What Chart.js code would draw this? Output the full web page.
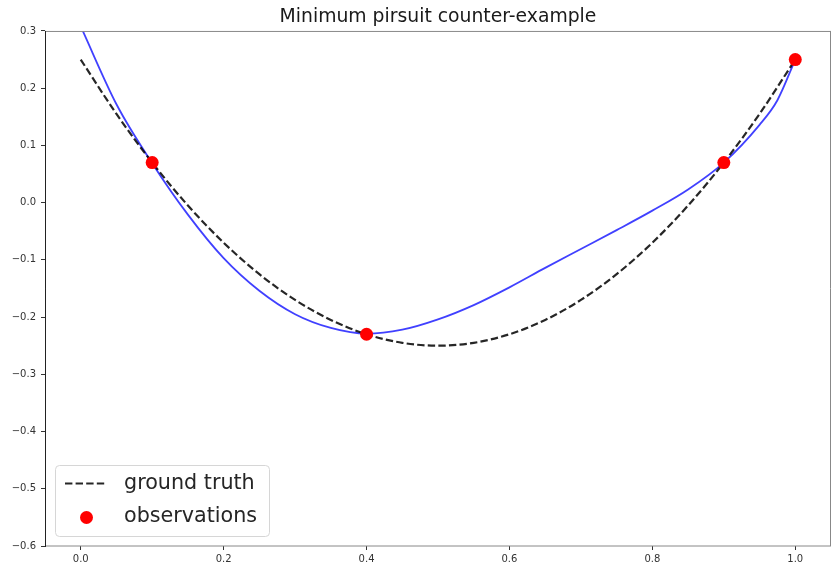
<!DOCTYPE html>
<html>
<head>
<meta charset="utf-8">
<script src="https://cdn.jsdelivr.net/npm/chart.js@4"></script>
<style>
  html, body { margin: 0; padding: 0; background: #fff; }
  #wrap { width: 832px; height: 567px; }
</style>
</head>
<body>
<div id="wrap"><canvas id="chart" width="832" height="567"></canvas></div>
<script>
// values
const truthX = [0, 0.05, 0.1, 0.15, 0.2, 0.25, 0.3, 0.35, 0.4, 0.45, 0.5, 0.55, 0.6, 0.65, 0.7, 0.75, 0.8, 0.85, 0.9, 0.95, 1.0];
const truthY = [0.25, 0.155, 0.07, -0.005, -0.07, -0.125, -0.17, -0.205, -0.23, -0.245, -0.25, -0.245, -0.23, -0.205, -0.17, -0.125, -0.07, -0.005, 0.07, 0.155, 0.25];

const fitX = [0, 0.05, 0.1, 0.15, 0.2, 0.25, 0.3, 0.35, 0.4, 0.45, 0.5, 0.55, 0.6, 0.65, 0.7, 0.75, 0.8, 0.85, 0.9, 0.95, 0.975, 1.0];
const fitY = [0.308, 0.172, 0.069, -0.021, -0.097, -0.154, -0.195, -0.219, -0.229, -0.222, -0.204, -0.179, -0.148, -0.114, -0.081, -0.048, -0.014, 0.023, 0.07, 0.136, 0.179, 0.25];

const obsX = [0.1, 0.4, 0.9, 1.0];
const obsY = [0.07, -0.23, 0.07, 0.25];

const xTicks = [0, 0.2, 0.4, 0.6, 0.8, 1.0];
const yTicks = [-0.6, -0.5, -0.4, -0.3, -0.2, -0.1, 0, 0.1, 0.2, 0.3];

const FONT = "'DejaVu Sans', sans-serif";
const toPts = (xs, ys) => xs.map((x, i) => ({ x: x, y: ys[i] }));
const fmt = v => v.toFixed(1).replace('-', '\u2212');

// box round the plot area, matplotlib style spines
const spines = {
  id: 'spines',
  afterDraw(chart) {
    const { ctx, chartArea: a } = chart;
    ctx.save();
    ctx.lineWidth = 1;
    ctx.strokeStyle = '#888';
    ctx.beginPath();
    ctx.moveTo(a.left, a.top + 0.5); ctx.lineTo(a.right, a.top + 0.5);
    ctx.moveTo(a.left, a.bottom); ctx.lineTo(a.right, a.bottom);
    ctx.moveTo(a.right - 0.5, a.top); ctx.lineTo(a.right - 0.5, a.bottom);
    ctx.stroke();
    ctx.strokeStyle = '#222';
    ctx.beginPath();
    ctx.moveTo(a.left + 0.5, a.top); ctx.lineTo(a.left + 0.5, a.bottom + 1);
    ctx.stroke();
    ctx.restore();
  }
};

// legend inside the lower left corner
const innerLegend = {
  id: 'innerLegend',
  afterDraw(chart) {
    const { ctx, chartArea: a } = chart;
    const x = a.left + 10.5, y = a.bottom - 80.5, w = 214, h = 71;
    ctx.save();
    ctx.fillStyle = 'rgba(255,255,255,0.8)';
    ctx.strokeStyle = '#d6d6d6';
    ctx.lineWidth = 1;
    ctx.beginPath();
    ctx.roundRect(x, y, w, h, 4);
    ctx.fill();
    ctx.stroke();

    const items = chart.data.datasets
      .filter(d => d.legendRank !== undefined)
      .sort((p, q) => p.legendRank - q.legendRank);
    ctx.font = '20.7px ' + FONT;
    ctx.textBaseline = 'middle';
    items.forEach((d, i) => {
      const cy = y + 18 + i * 33;
      if (d.showLine) {
        ctx.strokeStyle = d.borderColor;
        ctx.lineWidth = d.borderWidth;
        ctx.setLineDash(d.borderDash);
        ctx.beginPath();
        ctx.moveTo(x + 9.5, cy); ctx.lineTo(x + 51.5, cy);
        ctx.stroke();
        ctx.setLineDash([]);
      } else {
        ctx.fillStyle = d.backgroundColor;
        ctx.beginPath();
        ctx.arc(x + 31, cy + 1, 6.5, 0, Math.PI * 2);
        ctx.fill();
      }
      ctx.fillStyle = '#262626';
      ctx.fillText(d.label, x + 68.5, cy);
    });
    ctx.restore();
  }
};

new Chart(document.getElementById('chart'), {
  type: 'line',
  data: {
    datasets: [
      {
        label: 'observations',
        legendRank: 1,
        data: toPts(obsX, obsY),
        showLine: false,
        pointRadius: 6.5,
        pointBackgroundColor: '#ff0000',
        backgroundColor: '#ff0000',
        pointBorderWidth: 0,
        order: 0
      },
      {
        label: 'ground truth',
        legendRank: 0,
        data: toPts(truthX, truthY),
        showLine: true,
        borderColor: 'rgba(0,0,0,0.85)',
        borderWidth: 2.2,
        borderDash: [7.4, 3.2],
        pointRadius: 0,
        cubicInterpolationMode: 'monotone',
        order: 1
      },
      {
        label: 'fit',
        data: toPts(fitX, fitY),
        showLine: true,
        borderColor: 'rgba(0,0,255,0.75)',
        borderWidth: 1.8,
        pointRadius: 0,
        cubicInterpolationMode: 'monotone',
        order: 2
      }
    ]
  },
  options: {
    responsive: false,
    animation: false,
    events: [],
    layout: { autoPadding: false, padding: { right: 1, bottom: 0, left: 0, top: 0 } },
    plugins: {
      legend: { display: false },
      tooltip: { enabled: false },
      title: {
        display: true,
        fullSize: false,
        text: 'Minimum pirsuit counter-example',
        color: '#1a1a1a',
        font: { family: FONT, size: 18.8, weight: 'normal', lineHeight: 1.2 },
        padding: { top: 6, bottom: 2.4 }
      }
    },
    scales: {
      x: {
        type: 'linear',
        min: -0.05,
        max: 1.05,
        afterBuildTicks: axis => { axis.ticks = xTicks.map(v => ({ value: v })); },
        afterFit: axis => { axis.height = 21; axis.paddingLeft = 0; axis.paddingRight = 0; },
        grid: { drawOnChartArea: false, drawTicks: true, tickLength: 4, tickColor: '#333' },
        border: { display: false },
        ticks: {
          color: '#333',
          font: { family: FONT, size: 10 },
          padding: 3,
          maxRotation: 0,
          callback: v => fmt(v)
        }
      },
      y: {
        type: 'linear',
        min: -0.6,
        max: 0.3,
        afterBuildTicks: axis => { axis.ticks = yTicks.map(v => ({ value: v })); },
        afterFit: axis => { axis.width = 45; },
        grid: { drawOnChartArea: false, drawTicks: true, tickLength: 4, tickColor: '#333' },
        border: { display: false },
        ticks: {
          color: '#333',
          font: { family: FONT, size: 10 },
          padding: 5,
          callback: v => fmt(v)
        }
      }
    }
  },
  plugins: [spines, innerLegend]
});
</script>
</body>
</html>
